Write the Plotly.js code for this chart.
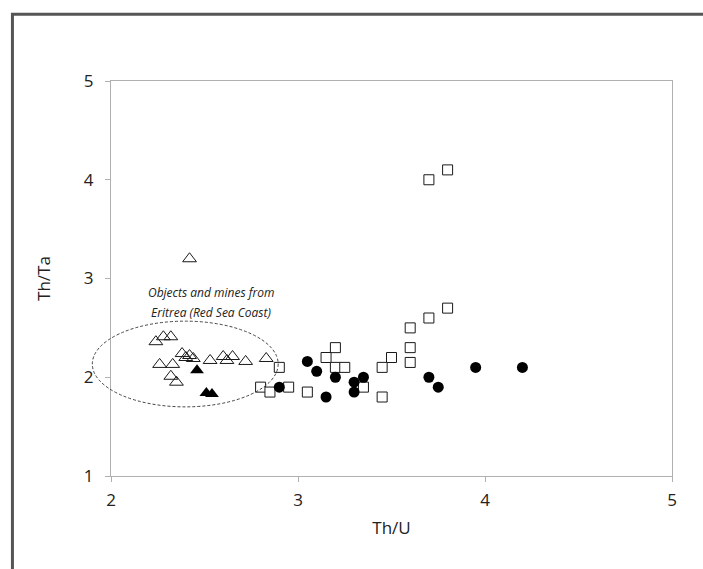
<!DOCTYPE html>
<html>
<head>
<meta charset="utf-8">
<script src="https://cdn.plot.ly/plotly-3.0.1.min.js"></script>
<style>
html,body{margin:0;padding:0;background:#fff;}
#chart{width:703px;height:569px;}
</style>
</head>
<body>
<div id="chart"></div>
<script>
// Open triangles: objects and mines from Eritrea
const triOpenX = [2.42, 2.24, 2.28, 2.32, 2.26, 2.33, 2.38, 2.40, 2.42, 2.44, 2.53, 2.60, 2.65, 2.62, 2.72, 2.83, 2.32, 2.35];
const triOpenY = [3.20, 2.36, 2.41, 2.41, 2.13, 2.13, 2.24, 2.20, 2.22, 2.19, 2.17, 2.21, 2.21, 2.17, 2.16, 2.19, 2.01, 1.95];
// Filled triangles
const triFillX = [2.46, 2.51, 2.54];
const triFillY = [2.07, 1.84, 1.83];
// Open squares
const sqX = [2.90, 2.80, 2.85, 2.95, 3.05, 3.20, 3.15, 3.20, 3.25, 3.35, 3.45, 3.50, 3.45, 3.60, 3.60, 3.60, 3.70, 3.80, 3.70, 3.80];
const sqY = [2.10, 1.90, 1.85, 1.90, 1.85, 2.30, 2.20, 2.10, 2.10, 1.90, 2.10, 2.20, 1.80, 2.50, 2.30, 2.15, 2.60, 2.70, 4.00, 4.10];
// Filled circles
const circX = [2.90, 3.05, 3.10, 3.20, 3.15, 3.30, 3.30, 3.35, 3.70, 3.75, 3.95, 4.20];
const circY = [1.90, 2.16, 2.06, 2.00, 1.80, 1.95, 1.85, 2.00, 2.00, 1.90, 2.10, 2.10];

const xTicks = [2, 3, 4, 5];
const yTicks = [1, 2, 3, 4, 5];
const noteLines = ['Objects and mines from', 'Eritrea (Red Sea Coast)'];

const traces = [
  {x: sqX, y: sqY, type: 'scatter', mode: 'markers', name: 'squares',
   marker: {symbol: 'square', size: 10, color: '#ffffff', line: {color: '#1a1a1a', width: 1}}},
  {x: circX, y: circY, type: 'scatter', mode: 'markers', name: 'circles',
   marker: {symbol: 'circle', size: 11, color: '#000000', line: {width: 0}}},
  {x: triOpenX, y: triOpenY, type: 'scatter', mode: 'markers', name: 'open triangles',
   marker: {symbol: 'triangle-up-open', size: 12, color: '#1a1a1a', line: {color: '#1a1a1a', width: 1}}},
  {x: triFillX, y: triFillY, type: 'scatter', mode: 'markers', name: 'filled triangles',
   marker: {symbol: 'triangle-up', size: 12, color: '#000000', line: {width: 0}}}
];

const fontFam = 'Open Sans, Liberation Sans, sans-serif';

const layout = {
  width: 703, height: 569,
  margin: {l: 111, r: 31, t: 81, b: 93},
  paper_bgcolor: '#ffffff', plot_bgcolor: '#ffffff',
  showlegend: false,
  font: {family: fontFam, color: '#222', size: 17},
  xaxis: {
    range: [2, 5], tickvals: xTicks, ticktext: xTicks.map(String),
    showgrid: false, zeroline: false,
    showline: true, linecolor: '#b0b0b0', linewidth: 1, mirror: true,
    ticks: 'outside', ticklen: 5, tickcolor: '#b0b0b0', ticklabelstandoff: 4,
    tickfont: {size: 17, family: fontFam, color: '#222'},
    title: {text: 'Th/U', font: {size: 17, family: fontFam, color: '#222'}, standoff: 11}
  },
  yaxis: {
    range: [1, 5], tickvals: yTicks, ticktext: yTicks.map(String),
    showgrid: false, zeroline: false,
    showline: true, linecolor: '#b0b0b0', linewidth: 1, mirror: true,
    ticks: 'outside', ticklen: 5, tickcolor: '#b0b0b0', ticklabelstandoff: 8,
    tickfont: {size: 17, family: fontFam, color: '#222'},
    title: {text: 'Th/Ta', font: {size: 17, family: fontFam, color: '#222'}, standoff: 28}
  },
  shapes: [
    {type: 'rect', xref: 'paper', yref: 'paper', x0: -0.1757, x1: 1.3, y0: -0.4, y1: 1.1687,
     line: {color: '#555555', width: 3}, fillcolor: 'rgba(0,0,0,0)', layer: 'below'},
    {type: 'circle', xref: 'paper', yref: 'paper', x0: -0.0333, x1: 0.298, y0: 0.175, y1: 0.392,
     line: {color: '#444444', width: 1, dash: '3px,2px'}, fillcolor: 'rgba(0,0,0,0)'}
  ],
  annotations: [
    {xref: 'paper', yref: 'paper', x: 0.1786, y: 0.4655, xanchor: 'center', yanchor: 'middle', showarrow: false,
     text: '<i>' + noteLines[0] + '</i>', font: {size: 12, family: fontFam, color: '#222'}},
    {xref: 'paper', yref: 'paper', x: 0.1786, y: 0.4149, xanchor: 'center', yanchor: 'middle', showarrow: false,
     text: '<i>' + noteLines[1] + '</i>', font: {size: 12, family: fontFam, color: '#222'}}
  ]
};

Plotly.newPlot('chart', traces, layout, {staticPlot: true, displayModeBar: false});
</script>
</body>
</html>
